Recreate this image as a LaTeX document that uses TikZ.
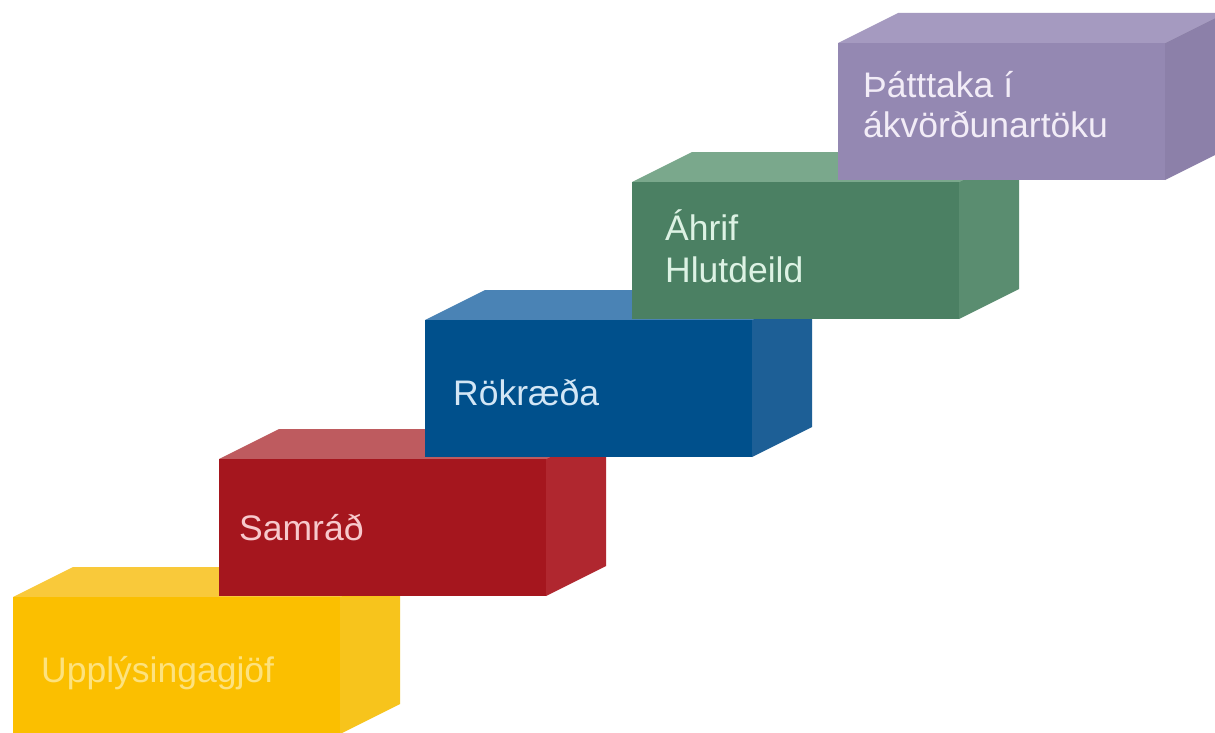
\documentclass[tikz,border=0pt]{standalone}
\usepackage{fontspec}
\setmainfont{Liberation Sans}
\definecolor{yF}{HTML}{FBBF00}\definecolor{yS}{HTML}{F7C41C}\definecolor{yT}{HTML}{F9C93A}\definecolor{yX}{HTML}{FDE27E}
\definecolor{rF}{HTML}{A5161E}\definecolor{rS}{HTML}{B0272F}\definecolor{rT}{HTML}{BE5B5F}\definecolor{rX}{HTML}{F7C9CC}
\definecolor{bF}{HTML}{00508C}\definecolor{bS}{HTML}{1D5F96}\definecolor{bT}{HTML}{4A83B5}\definecolor{bX}{HTML}{D3E6F5}
\definecolor{gF}{HTML}{4B8063}\definecolor{gS}{HTML}{5A8D70}\definecolor{gT}{HTML}{7AA88C}\definecolor{gX}{HTML}{DDF2E4}
\definecolor{pF}{HTML}{9488B2}\definecolor{pS}{HTML}{8C80A9}\definecolor{pT}{HTML}{A59AC0}\definecolor{pX}{HTML}{F2ECF7}
\tikzset{
  boxlabel/.style={anchor=base west, inner sep=0pt, font=\fontsize{35.5}{42}\selectfont}
}
% #1 x, #2 y (front top-left, image coords), #3 prefix of colours
\newcommand\stairblock[3]{%
  \fill[#3T] (#1,#2) -- ++(60,-30) -- ++(327,0) -- ++(-60,30) -- cycle;
  \fill[#3S] (#1+327,#2) -- ++(60,-30) -- ++(0,137) -- ++(-60,30) -- cycle;
  \fill[#3F] (#1,#2) rectangle ++(327,137);
}
\begin{document}
\begin{tikzpicture}[x=1pt,y=-1pt]
\useasboundingbox (0,0) rectangle (1215,733);
\fill[white] (0,0) rectangle (1215,733);
\begin{scope}
\clip (0,0) rectangle (1215,733);
\stairblock{13}{597}{y}
\stairblock{219}{459}{r}
\stairblock{425}{320}{b}
\stairblock{632}{182}{g}
\stairblock{838}{43}{p}
\end{scope}
\node[boxlabel, text=yX] (t1) at (41,682) {Upplýsingagjöf};
\node[boxlabel, text=rX] (t2) at (239,540) {Samráð};
\node[boxlabel, text=bX] (t3) at (453,405) {Rökræða};
\node[boxlabel, text=gX] (t4a) at (665,240) {Áhrif};
\node[boxlabel, text=gX] (t4b) at (665,282) {Hlutdeild};
\node[boxlabel, text=pX] (t5a) at (863,98) {Þátttaka í};
\node[boxlabel, text=pX] (t5b) at (863,138) {ákvörðunartöku};
\end{tikzpicture}
\end{document}
